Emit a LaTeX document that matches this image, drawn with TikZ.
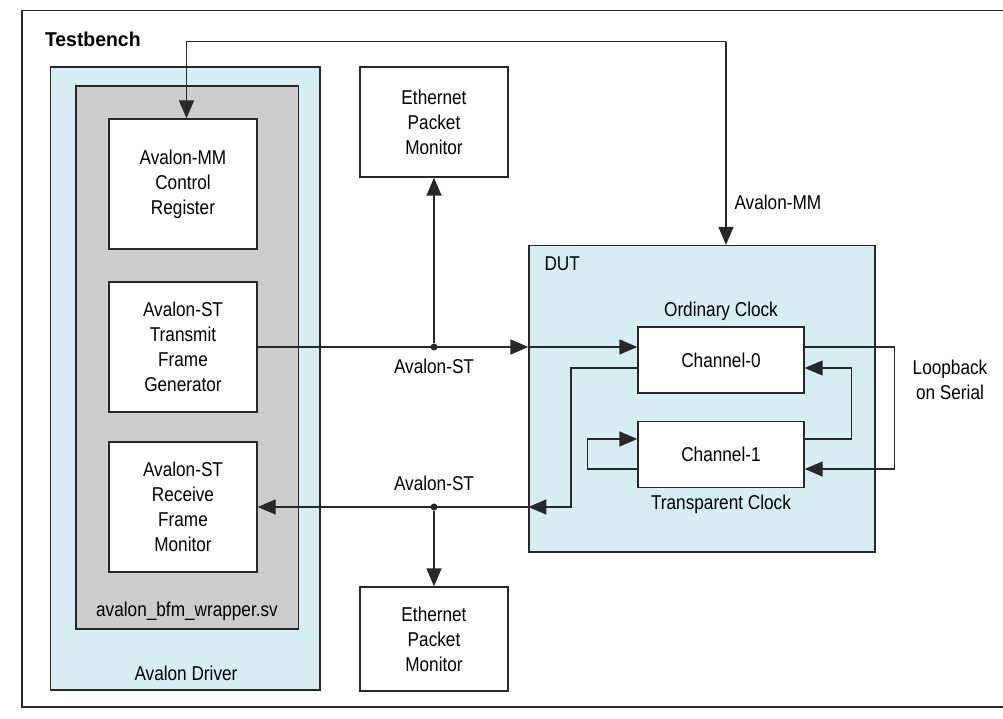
\documentclass[tikz,border=0pt]{standalone}
\usepackage{fontspec}
\setmainfont{Liberation Sans}[FakeStretch=0.86]
\newfontfamily\tbfont{Liberation Sans}[FakeStretch=0.97]
\usetikzlibrary{arrows.meta,calc}
\definecolor{lblue}{RGB}{214,237,244}
\definecolor{lgray}{RGB}{204,204,204}
\definecolor{ln}{RGB}{40,40,40}
\begin{document}
\begin{tikzpicture}[x=1pt,y=-1pt,
  every node/.style={font=\fontsize{20}{25}\selectfont, text=black},
  container/.style={draw=ln, line width=1.3pt, inner sep=0pt},
  box/.style={draw=ln, line width=1.3pt, fill=white, align=center, inner sep=0pt},
  conn/.style={draw=ln, line width=1.3pt},
  arr/.style={conn, -{Triangle[length=18pt,width=15pt]}},
  dotc/.style={circle, fill=ln, inner sep=0pt, minimum size=7pt}]
\useasboundingbox (0,0) rectangle (1003,719);
\fill[white] (0,0) rectangle (1003,719);
% outer frame
\draw[ln, line width=1.3pt] (22,10.5) rectangle (1015,707);
\node[anchor=west, font=\tbfont\fontsize{20}{25}\selectfont\bfseries] (tb) at (41.5,39) {Testbench};

% Avalon driver
\node[container, fill=lblue, minimum width=269.5pt, minimum height=623pt] (drv) at (185.25,378.5) {};
\node[container, fill=lgray, minimum width=222.5pt, minimum height=543pt] (wrap) at (187.25,357.5) {};
\node (drvlbl) at (186,673) {Avalon Driver};
\node (wraplbl) at (187,611) {avalon\_bfm\_wrapper.sv};

\node[box, minimum width=148pt, minimum height=130pt] (cr) at (183,184) {Avalon-MM\\Control\\Register};
\node[box, minimum width=148pt, minimum height=130pt] (tx) at (183,347) {Avalon-ST\\Transmit\\Frame\\Generator};
\node[box, minimum width=148pt, minimum height=130pt] (rx) at (183,507) {Avalon-ST\\Receive\\Frame\\Monitor};

% monitors
\node[box, minimum width=148pt, minimum height=110pt] (epm1) at (434,122) {Ethernet\\Packet\\Monitor};
\node[box, minimum width=148pt, minimum height=104pt] (epm2) at (434,639) {Ethernet\\Packet\\Monitor};

% DUT
\node[container, fill=lblue, minimum width=346pt, minimum height=306.5pt] (dut) at (702,398.75) {};
\node[anchor=west] (dutlbl) at (541,264) {DUT};
\node (oclk) at (721,311) {Ordinary Clock};
\node[box, minimum width=166pt, minimum height=66pt] (ch0) at (721,360) {Channel-0};
\node[box, minimum width=166pt, minimum height=66pt] (ch1) at (721,454.5) {Channel-1};
\node (tclk) at (721,504) {Transparent Clock};
\node[align=center] (loop) at (950,379.5) {Loopback\\on Serial};

% Avalon-MM
\coordinate (mmR) at (726,41.7);
\coordinate (mmL) at (186.5,41.7);
\draw[arr] (mmR) -- (mmR |- dut.north);
\draw[arr] (mmR) -- (mmL) -- (mmL |- cr.north);
\node[anchor=west] (mmlbl) at (731,202) {Avalon-MM};

% transmit path
\draw[arr] (tx.east) -- (tx.east -| dut.west);
\draw[arr] (tx.east -| dut.west) -- (tx.east -| ch0.west);
\node[dotc] (d1) at (tx.east -| epm1.south) {};
\draw[arr] (d1) -- (epm1.south);
\node (st1) at (434,366) {Avalon-ST};

% receive path
\coordinate (bend) at (571,507);
\draw[arr] ([yshift=-8pt]ch0.west) -| (bend) -- (bend -| dut.west);
\draw[arr] (rx.east -| dut.west) -- (rx.east);
\node[dotc] (d2) at (rx.east -| epm2.north) {};
\draw[arr] (d2) -- (epm2.north);
\node (st2) at (434,483) {Avalon-ST};

% loopback and channel links
\draw[arr] ([yshift=13pt]ch0.east) -- ++(90,0) |- ([yshift=-14.5pt]ch1.east);
\draw[arr] ([yshift=15.5pt]ch1.east) -- ++(47,0) |- ([yshift=-8pt]ch0.east);
\draw[arr] ([yshift=-14.5pt]ch1.west) -- ++(-50,0) |- ([yshift=15.5pt]ch1.west);
\end{tikzpicture}
\end{document}
